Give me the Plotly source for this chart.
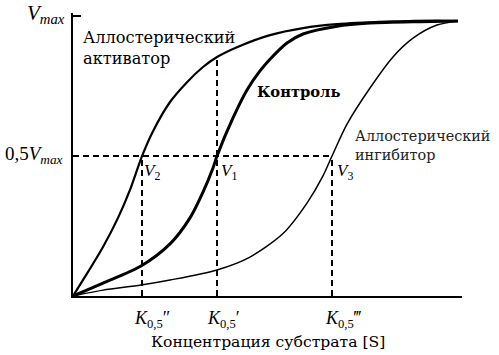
import plotly.graph_objects as go

# Substrate concentration (arbitrary units) and relative velocity V/Vmax
act_x = [0, 0.386, 0.771, 1.157, 1.465, 1.774, 2.057, 2.494, 2.931, 3.342, 3.702, 4.216, 5.064, 5.913, 6.787, 8.072, 9.357, 9.897]
act_y = [0, 0.086, 0.175, 0.279, 0.379, 0.5, 0.589, 0.693, 0.764, 0.818, 0.854, 0.889, 0.932, 0.957, 0.971, 0.980, 0.984, 0.982]

ctl_x = [0, 0.771, 1.748, 2.494, 3.008, 3.342, 3.599, 3.702, 4.113, 4.473, 4.807, 5.064, 5.501, 5.913, 6.787, 7.635, 8.920, 9.897]
ctl_y = [0, 0.046, 0.107, 0.186, 0.279, 0.371, 0.457, 0.5, 0.636, 0.736, 0.804, 0.846, 0.904, 0.936, 0.964, 0.975, 0.980, 0.982]

inh_x = [0, 0.771, 1.748, 2.494, 3.702, 4.550, 5.398, 6.015, 6.427, 6.658, 7.044, 7.635, 8.226, 8.740, 9.357, 9.897]
inh_y = [0, 0.021, 0.039, 0.057, 0.093, 0.139, 0.223, 0.332, 0.429, 0.5, 0.614, 0.743, 0.854, 0.921, 0.968, 0.982]

# Half-saturation constants
k_act = 1.774   # K0,5''
k_ctl = 3.702   # K0,5'
k_inh = 6.658   # K0,5'''
half = 0.5
act_at_kctl = 0.854

FONT = "Liberation Serif, Times New Roman, DejaVu Serif, serif"
CYR = "DejaVu Serif, serif"
fig = go.Figure()

dash = dict(color="black", width=2, dash="6px,4px")
# dashed guide lines
fig.add_trace(go.Scatter(x=[0, k_inh], y=[half, half], mode="lines", line=dash, hoverinfo="skip"))
fig.add_trace(go.Scatter(x=[k_act, k_act], y=[0, half], mode="lines", line=dash, hoverinfo="skip"))
fig.add_trace(go.Scatter(x=[k_ctl, k_ctl], y=[0, act_at_kctl], mode="lines", line=dash, hoverinfo="skip"))
fig.add_trace(go.Scatter(x=[k_inh, k_inh], y=[0, half], mode="lines", line=dash, hoverinfo="skip"))

fig.add_trace(go.Scatter(x=act_x, y=act_y, mode="lines",
                         line=dict(color="black", width=2.2, shape="spline", smoothing=0.8)))
fig.add_trace(go.Scatter(x=ctl_x, y=ctl_y, mode="lines",
                         line=dict(color="black", width=3, shape="spline", smoothing=0.8)))
fig.add_trace(go.Scatter(x=inh_x, y=inh_y, mode="lines",
                         line=dict(color="black", width=1.5, shape="spline", smoothing=0.8)))

ann = []
def A(x, y, text, size=17, xa="left", ya="middle", xs=0, ys=0, xref="x", yref="y",
      color="black", family=FONT):
    ann.append(dict(x=x, y=y, xref=xref, yref=yref, text=text, showarrow=False, align="left",
                    xanchor=xa, yanchor=ya, xshift=xs, yshift=ys,
                    font=dict(family=family, size=size, color=color)))

# y labels
A(0, 1.0, "<i>V</i><sub><i>max</i></sub>", size=21, xa="right", xs=-6, ys=2)
A(0, half, "0,5<i>V</i><sub><i>max</i></sub>", size=19, xa="right", xs=-8, ys=1)
# curve labels
A(0.2, 0.886, "Аллостерический<br>активатор", size=16.2, family=CYR)
A(4.68, 0.732, "<b>Контроль</b>", size=14.7, family=CYR)
A(7.2, 0.539, "Аллостерический<br>ингибитор", size=14.4, color="#222", family=CYR)
# V points
A(k_act, half, "<i>V</i><sub>2</sub>", size=17, ya="top", xs=0, ys=-3)
A(k_ctl, half, "<i>V</i><sub>1</sub>", size=17, ya="top", xs=2, ys=-3)
A(k_inh, half, "<i>V</i><sub>3</sub>", size=17, ya="top", xs=3, ys=-3)
# K labels
A(k_act, 0, "<i>K</i><sub>0,5</sub>″", size=18, xa="center", ya="top", xs=10, ys=-10)
A(k_ctl, 0, "<i>K</i><sub>0,5</sub>′", size=18, xa="center", ya="top", xs=6, ys=-10)
A(k_inh, 0, "<i>K</i><sub>0,5</sub>‴", size=18, xa="center", ya="top", xs=11, ys=-10)
# x title
ann.append(dict(x=0.5, y=0, xref="paper", yref="paper", text="Концентрация субстрата [S]",
                showarrow=False, xanchor="center", yanchor="top", xshift=0, yshift=-35,
                font=dict(family=CYR, size=15.6, color="black")))

fig.update_layout(
    width=499, height=355,
    margin=dict(l=73, r=37, t=13, b=59),
    paper_bgcolor="white", plot_bgcolor="white",
    showlegend=False,
    annotations=ann,
    xaxis=dict(range=[0, 10], showgrid=False, zeroline=False, showline=True,
               linecolor="black", linewidth=2, showticklabels=False, ticks=""),
    yaxis=dict(range=[0, 1.011], showgrid=False, zeroline=False, showline=True,
               linecolor="black", linewidth=2, showticklabels=False,
               tickvals=[1.0], ticks="inside", ticklen=8, tickwidth=2, tickcolor="black"),
)
fig.write_html("out.html")
